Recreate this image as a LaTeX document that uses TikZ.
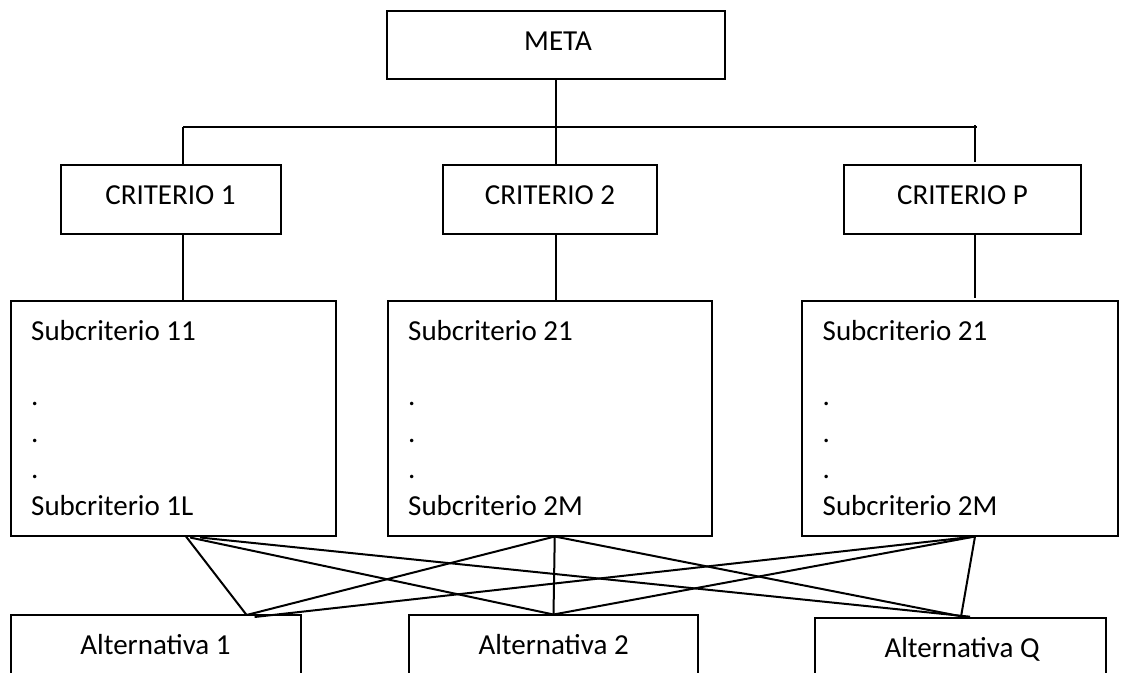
\documentclass[tikz,border=0pt]{standalone}
\usepackage{fontspec}
\setmainfont{Carlito}
\usetikzlibrary{calc}
\begin{document}
\begin{tikzpicture}[x=1pt,y=-1pt,
  box/.style={draw, rectangle, line width=2pt, inner sep=0pt},
  lbl/.style={inner sep=0pt, font=\fontsize{29}{35}\selectfont},
  link/.style={line width=2pt}]
\useasboundingbox (0,0) rectangle (1121,672);

% goal
\node[box, minimum width=338pt, minimum height=68pt] (meta) at (556,45) {};
\node[lbl, anchor=base] (metaT) at (558,50.7) {META};

% criteria
\node[box, minimum width=220pt, minimum height=69pt] (c1) at (171,199.5) {};
\node[box, minimum width=214pt, minimum height=69pt] (c2) at (550,199.5) {};
\node[box, minimum width=237pt, minimum height=69pt] (cp) at (962.5,199.5) {};
\node[lbl, anchor=base] (c1T) at (170.5,204) {CRITERIO 1};
\node[lbl, anchor=base] (c2T) at (550,204) {CRITERIO 2};
\node[lbl, anchor=base] (cpT) at (962.5,204) {CRITERIO P};

% sub-criteria
\node[box, minimum width=325pt, minimum height=235pt] (s1) at (173,418) {};
\node[box, minimum width=324.5pt, minimum height=235pt] (s2) at (549.75,418) {};
\node[box, minimum width=316pt, minimum height=235pt] (s3) at (960,418) {};

\foreach \nm/\xx/\first/\last in {s1/31/Subcriterio 11/Subcriterio 1L,
                                  s2/408/Subcriterio 21/Subcriterio 2M,
                                  s3/822.5/Subcriterio 21/Subcriterio 2M}{
  \node[lbl, anchor=base west] (\nm a) at (\xx,340.7) {\first};
  \node[lbl, anchor=base west] (\nm b) at (\xx,405.5) {.};
  \node[lbl, anchor=base west] (\nm c) at (\xx,442) {.};
  \node[lbl, anchor=base west] (\nm d) at (\xx,478) {.};
  \node[lbl, anchor=base west] (\nm e) at (\xx,515) {\last};
}

% alternatives
\node[box, minimum width=290pt, minimum height=61pt] (a1) at (155.6,645.5) {};
\node[box, minimum width=289pt, minimum height=62pt] (a2) at (553.5,645.5) {};
\node[box, minimum width=291pt, minimum height=62pt] (aq) at (960,648.7) {};
\node[lbl, anchor=base] (a1T) at (155.5,654) {Alternativa 1};
\node[lbl, anchor=base] (a2T) at (553.6,654.5) {Alternativa 2};
\node[lbl, anchor=base] (aqT) at (962,657) {Alternativa Q};

% tree from the goal down to the criteria
\coordinate (busL) at (183,127);
\coordinate (busR) at (977,127);
\coordinate (pTop) at (975,125);
\draw[link] (meta.south) -- (meta.south |- busL);
\draw[link] (busL) -- (busR);
\draw[link] (busL) -- (busL |- c1.north);
\draw[link] (meta.south |- busL) -- (meta.south |- c2.north);
\draw[link] (pTop) -- ($(pTop |- cp.north)+(0,-2)$);

% criteria to sub-criteria
\draw[link] (c1.south -| busL) -- (s1.north -| busL);
\draw[link] (c2.south -| meta.south) -- (s2.north -| meta.south);
\draw[link] ($(cp.south -| pTop)+(0,-2)$) -- ($(s3.north -| pTop)+(0,-2)$);

% sub-criteria to alternatives
\coordinate (s1o1) at ($(s1.south)+(13,0)$);
\coordinate (s1o2) at ($(s1.south)+(17,1)$);
\coordinate (s1o3) at ($(s1.south)+(27,1)$);
\coordinate (s2o)  at ($(s2.south)+(5,0)$);
\coordinate (s3o)  at ($(s3.south)+(15,0)$);
\coordinate (a1i1) at ($(a1.north)+(91,1)$);
\coordinate (a1i2) at ($(a1.north)+(99,3)$);
\coordinate (a2i)  at ($(a2.north)+(0,1)$);

\draw[link] (s1o1) -- (a1i1);
\draw[link] (s1o2) -- (a2i);
\draw[link] (s1o3) -- ($(aq.north)+(10,0)$);
\draw[link] (s2o) -- (a1i1);
\draw[link] (s2o) -- (a2i);
\draw[link] (s2o) -- ($(aq.north)+(3,0)$);
\draw[link] (s3o) -- (a1i2);
\draw[link] (s3o) -- (a2i);
\draw[link] (s3o) -- ($(aq.north)+(1,0)$);
\end{tikzpicture}
\end{document}
